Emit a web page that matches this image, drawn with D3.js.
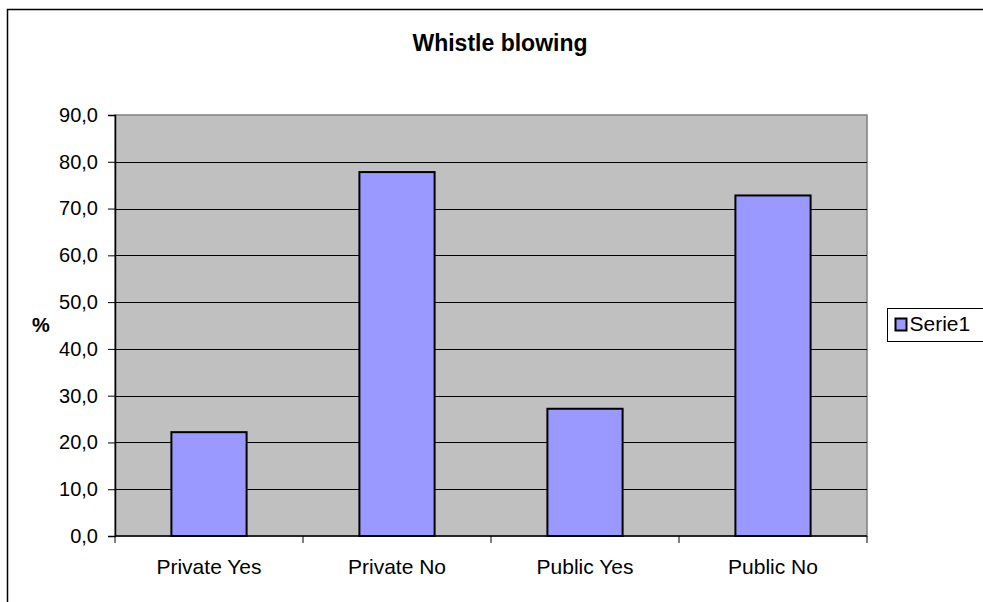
<!DOCTYPE html>
<html>
<head>
<meta charset="utf-8">
<script src="https://cdn.jsdelivr.net/npm/d3@7"></script>
<style>
  body { margin: 0; background: #fff; }
  text { font-family: "Liberation Sans", Arial, sans-serif; }
</style>
</head>
<body>
<svg id="chart" width="983" height="602"></svg>
<script>
const categories = ['Private Yes', 'Private No', 'Public Yes', 'Public No'];
const values = [22.2, 77.8, 27.2, 72.8];
const yTicks = [0, 10, 20, 30, 40, 50, 60, 70, 80, 90];
const seriesName = 'Serie1';

const svg = d3.select('#chart');
const plot = { left: 115, top: 115, right: 867, bottom: 536 };

// outer chart border (runs off the right and bottom edges)
svg.append('rect')
  .attr('x', 7.5).attr('y', 9.5)
  .attr('width', 1000).attr('height', 620)
  .attr('fill', '#fff')
  .attr('stroke', '#000')
  .attr('stroke-width', 1.5);

const x = d3.scaleBand()
  .domain(categories)
  .range([plot.left, plot.right])
  .paddingInner(0.6)
  .paddingOuter(0.3);

const y = d3.scaleLinear()
  .domain([0, 90])
  .range([plot.bottom, plot.top]);

// plot background
svg.append('rect')
  .attr('x', plot.left).attr('y', plot.top)
  .attr('width', plot.right - plot.left)
  .attr('height', plot.bottom - plot.top)
  .attr('fill', '#c0c0c0')
  .attr('stroke', '#808080')
  .attr('stroke-width', 1.5);

// gridlines
svg.append('g')
  .selectAll('line')
  .data(yTicks.filter(d => d > 0 && d < 90))
  .enter()
  .append('line')
  .attr('x1', plot.left).attr('x2', plot.right)
  .attr('y1', d => Math.round(y(d)) + 0.5)
  .attr('y2', d => Math.round(y(d)) + 0.5)
  .attr('stroke', '#000')
  .attr('stroke-width', 1);

// bars
svg.append('g')
  .selectAll('rect')
  .data(values)
  .enter()
  .append('rect')
  .attr('x', (d, i) => x(categories[i]))
  .attr('y', d => y(d))
  .attr('width', x.bandwidth())
  .attr('height', d => plot.bottom - y(d))
  .attr('fill', '#9999ff')
  .attr('stroke', '#000')
  .attr('stroke-width', 2);

// y axis
const yAxis = svg.append('g')
  .attr('transform', `translate(${plot.left},0)`)
  .call(d3.axisLeft(y)
    .tickValues(yTicks)
    .tickSize(7)
    .tickPadding(10)
    .tickFormat(d => d3.format('.1f')(d).replace('.', ',')));
yAxis.select('.domain').attr('stroke', '#000').attr('stroke-width', 1.5);
yAxis.selectAll('.tick line').attr('stroke', '#000');
yAxis.selectAll('text')
  .attr('fill', '#000')
  .style('font-size', '20px')
  .style('font-family', '"Liberation Sans", Arial, sans-serif');

// x axis
const bounds = d3.range(categories.length + 1)
  .map(i => plot.left + i * (plot.right - plot.left) / categories.length);
const xAxis = svg.append('g');
xAxis.append('line')
  .attr('x1', plot.left).attr('x2', plot.right)
  .attr('y1', plot.bottom).attr('y2', plot.bottom)
  .attr('stroke', '#000').attr('stroke-width', 1.5);
xAxis.selectAll('.tk')
  .data(bounds)
  .enter()
  .append('line')
  .attr('x1', d => d).attr('x2', d => d)
  .attr('y1', plot.bottom).attr('y2', plot.bottom + 7)
  .attr('stroke', '#000');
xAxis.selectAll('text')
  .data(categories)
  .enter()
  .append('text')
  .attr('x', d => x(d) + x.bandwidth() / 2)
  .attr('y', 574)
  .attr('text-anchor', 'middle')
  .style('font-size', '21px')
  .text(d => d);

// title
svg.append('text')
  .attr('x', 500).attr('y', 51)
  .attr('text-anchor', 'middle')
  .style('font-size', '23px')
  .style('font-weight', 'bold')
  .text('Whistle blowing');

// y axis label
svg.append('text')
  .attr('x', 41).attr('y', 332)
  .attr('text-anchor', 'middle')
  .style('font-size', '20px')
  .style('font-weight', 'bold')
  .text('%');

// legend
const legend = svg.append('g').attr('transform', 'translate(887.5,308.5)');
legend.append('rect')
  .attr('width', 120).attr('height', 33)
  .attr('fill', '#fff')
  .attr('stroke', '#000');
legend.append('rect')
  .attr('x', 8).attr('y', 10)
  .attr('width', 11).attr('height', 12)
  .attr('fill', '#9999ff')
  .attr('stroke', '#000')
  .attr('stroke-width', 2);
legend.append('text')
  .attr('x', 22).attr('y', 22.5)
  .style('font-size', '21px')
  .text(seriesName);
</script>
</body>
</html>
